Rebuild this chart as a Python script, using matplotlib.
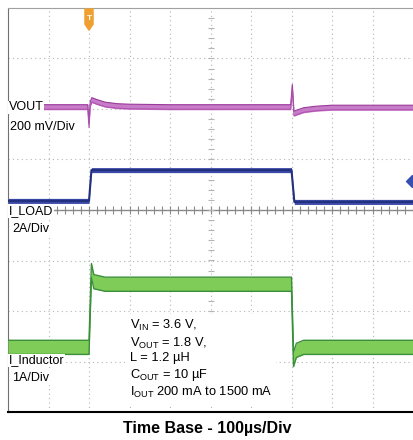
import numpy as np
import matplotlib.pyplot as plt
from matplotlib.patches import Polygon

plt.rcParams['font.family'] = ['Liberation Sans', 'DejaVu Sans']
plt.rcParams['mathtext.fontset'] = 'custom'
plt.rcParams['mathtext.rm'] = 'Liberation Sans'

# ── traces (time in divisions, amplitude in divisions) ───────────────────────
vout_t = [0, 1.97, 2.0, 2.03, 2.07, 2.2, 2.4, 2.7, 3.0, 4.0, 6.98, 7.02, 7.06, 7.12, 7.3, 7.6, 8.0, 10]
vout_v = [2.04, 2.04, 1.68, 2.10, 2.18, 2.14, 2.09, 2.06, 2.05, 2.04, 2.04, 2.44, 1.91, 1.93, 1.98, 2.01, 2.03, 2.03]

load_t = [0, 2.0, 2.06, 7.0, 7.07, 10]
load_v = [0.18, 0.18, 0.79, 0.79, 0.16, 0.16]

ind_t = [0, 2.0, 2.06, 2.12, 2.4, 7.0, 7.05, 7.12, 7.3, 10]
ind_v = [-2.72, -2.72, -1.20, -1.42, -1.47, -1.47, -2.96, -2.78, -2.72, -2.72]
ind_ripple = 0.14

trig_t = 2.0
blue_marker = (9.97, 0.57)

# ── figure ────────────────────────────────────────────────────────────────────
fig = plt.figure(figsize=(4.13, 4.40), dpi=100)
ax = fig.add_axes([8/413, 28/440, 405/413, 404/440])
ax.set_xlim(0, 10)
ax.set_ylim(-4, 4)

# graticule
for xv in range(1, 10):
    ax.axvline(xv, color='#b5b5b5', lw=0.8, ls=(0, (1, 3)), zorder=0)
for yv in range(-3, 4):
    ax.axhline(yv, color='#b5b5b5', lw=0.8, ls=(0, (1, 3)), zorder=0)
ax.axhline(0, color='#8a8a8a', lw=1.0, zorder=1)
minor = np.arange(0, 10.01, 0.2)
ax.plot(minor, np.zeros_like(minor), '|', color='#8a8a8a', ms=6, mew=0.8, zorder=1)
minor_y = np.arange(-4, 4.01, 0.2)
ax.plot(np.full_like(minor_y, 5), minor_y, '_', color='#b5b5b5', ms=5, mew=0.8, zorder=1)

# VOUT (magenta)
vv = np.array(vout_v)
ax.fill_between(vout_t, vv - 0.055, vv + 0.055, color='#c77cc7', lw=0, zorder=3)
ax.plot(vout_t, vv + 0.045, color='#9a3a9a', lw=0.8, zorder=3)
ax.plot(vout_t, vv - 0.045, color='#b050b0', lw=0.8, zorder=3)

# I_LOAD (blue)
lv = np.array(load_v)
ax.fill_between(load_t, lv - 0.05, lv + 0.05, color='#3b4aa8', lw=0, zorder=3)
ax.plot(load_t, lv, color='#23307e', lw=1.5, zorder=3)
ax.plot(*blue_marker, marker='D', color='#3550b0', ms=6, zorder=4, clip_on=True)

# I_Inductor (green)
iv = np.array(ind_v)
ax.fill_between(ind_t, iv - ind_ripple, iv + ind_ripple, color='#80cc58', lw=0, zorder=3)
ax.plot(ind_t, iv + ind_ripple, color='#3a8f3a', lw=1.0, zorder=3)
ax.plot(ind_t, iv - ind_ripple, color='#3a8f3a', lw=1.0, zorder=3)

# trigger marker
ax.add_patch(Polygon([(trig_t - 0.1, 3.98), (trig_t + 0.1, 3.98), (trig_t + 0.1, 3.68),
                      (trig_t, 3.56), (trig_t - 0.1, 3.68)],
                     closed=True, color='#f0a030', zorder=5, clip_on=False))
ax.text(trig_t, 3.8, 'T', color='white', fontsize=6, fontweight='bold',
        ha='center', va='center', zorder=6)

# channel labels
narrow = ['Liberation Sans Narrow', 'Liberation Sans', 'DejaVu Sans']
wb = dict(facecolor='white', edgecolor='none', pad=0.5)
ax.text(0.02, 2.03, 'VOUT', family=narrow, fontsize=9, va='center', ha='left', bbox=wb, zorder=6)
ax.text(0.04, 1.65, '200 mV/Div', fontsize=9, va='center', ha='left', bbox=wb, zorder=6)
ax.text(0.02, -0.02, 'I_LOAD', family=narrow, fontsize=9, va='center', ha='left', bbox=wb, zorder=6)
ax.text(0.1, -0.37, '2A/Div', fontsize=9, va='center', ha='left', bbox=wb, zorder=6)
ax.text(0.02, -2.98, 'I_Inductor', family=narrow, fontsize=9, va='center', ha='left', bbox=wb, zorder=6)
ax.text(0.1, -3.33, '1A/Div', fontsize=9, va='center', ha='left', bbox=wb, zorder=6)

ax.text(3.0, -3.76,
        r'V$_{\mathrm{IN}}$ = 3.6 V,' + '\n'
        r'V$_{\mathrm{OUT}}$ = 1.8 V,' + '\n'
        'L = 1.2 µH\n'
        r'C$_{\mathrm{OUT}}$ = 10 µF' + '\n'
        r'I$_{\mathrm{OUT}}$ 200 mA to 1500 mA',
        fontsize=9.3, ha='left', va='bottom', linespacing=1.2,
        bbox=dict(facecolor='white', edgecolor='none', pad=3), zorder=6)

# frame
ax.set_xticks([]); ax.set_yticks([])
ax.spines['right'].set_visible(False)
ax.spines['top'].set_color('#a0a0a0')
ax.spines['left'].set_color('#707070')
ax.spines['bottom'].set_color('black')
ax.spines['bottom'].set_linewidth(1.5)

fig.text(207/413, 1 - 428/440, 'Time Base - 100µs/Div', ha='center', va='center',
         fontsize=11.5, fontweight='bold')

plt.savefig('out.png', dpi=100)
